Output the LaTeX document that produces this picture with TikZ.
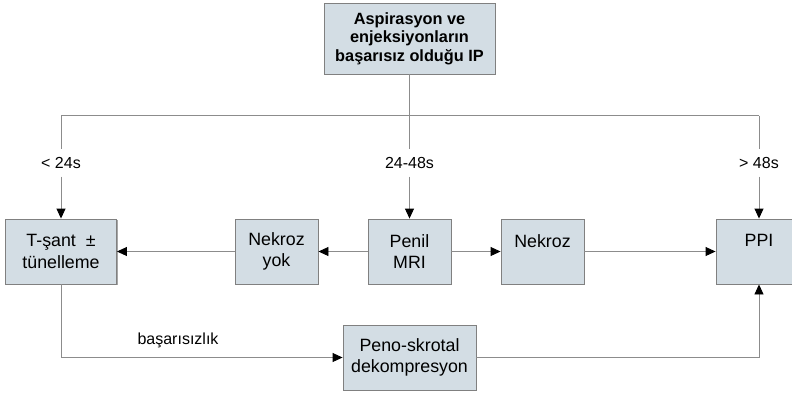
\documentclass[tikz,border=0pt]{standalone}
\usepackage{fontspec}
\setmainfont{Liberation Sans}
\usetikzlibrary{arrows.meta,shadows}
\definecolor{boxfill}{RGB}{211,221,228}
\definecolor{linegray}{RGB}{140,140,140}
\definecolor{bordergray}{RGB}{128,128,128}
\begin{document}
\begin{tikzpicture}[x=1pt,y=-1pt,
  box/.style={draw=bordergray, line width=0.9pt, fill=boxfill, inner sep=0pt, align=center,
    font=\fontsize{17.8}{21.7}\selectfont,
    drop shadow={shadow xshift=1pt, shadow yshift=-1pt, fill=gray!70, opacity=1}},
  conn/.style={draw=linegray, line width=0.9pt},
  arr/.style={conn, -{Triangle[length=10pt,width=9pt,color=black]}},
  lab/.style={inner xsep=2pt, inner ysep=0pt, minimum height=27pt, font=\fontsize{16}{19}\selectfont}]
\useasboundingbox (0,0) rectangle (792,392);
\fill[white] (0,0) rectangle (792,392);
% boxes
\node[box, minimum width=171pt, minimum height=71pt, font=\bfseries\fontsize{16.3}{18.4}\selectfont] (top) at (409.5,38.5) {Aspirasyon ve\\enjeksiyonların\\başarısız olduğu IP};
\node[box, minimum width=111pt, minimum height=65pt] (tsant) at (61,251.5) {T-şant \ ±\\tünelleme};
\node[box, minimum width=83pt, minimum height=65pt] (nyok) at (276.5,251.5) {Nekroz\\yok};
\node[box, minimum width=83pt, minimum height=65pt] (mri) at (409.5,251.5) {Penil\\MRI};
\node[box, minimum width=83pt, minimum height=65pt] (nekroz) at (542.5,251.5) {Nekroz\\\phantom{M}};
\node[box, minimum width=86pt, minimum height=65pt] (ppi) at (759,251.5) {PPI\\\phantom{M}};
\node[box, minimum width=133pt, minimum height=65pt] (peno) at (409.5,357.5) {Peno-skrotal\\dekompresyon};
% branch lines
\coordinate (jl) at (61,115.5);
\coordinate (jm) at (409.5,115.5);
\coordinate (jr) at (759,115.5);
\draw[conn] (top.south) -- (jm);
\draw[conn] (jl) -- (jr);
\node[lab] (l1) at (61,163) {< 24s};
\node[lab] (l2) at (409.5,163) {24-48s};
\node[lab] (l3) at (759,163) {> 48s};
\draw[conn] (jl) -- (l1.north);
\draw[conn] (jm) -- (l2.north);
\draw[conn] (jr) -- (l3.north);
\draw[arr] (l1.south) -- (tsant.north);
\draw[arr] (l2.south) -- (mri.north);
\draw[arr] (l3.south) -- (ppi.north);
% horizontal arrows
\draw[arr] (mri.west) -- (nyok.east);
\draw[arr] (nyok.west) -- (tsant.east);
\draw[arr] (mri.east) -- (nekroz.west);
\draw[arr] (nekroz.east) -- (ppi.west);
% bottom path
\draw[arr] (tsant.south) |- (peno.west);
\draw[arr] (peno.east) -| (ppi.south);
\node[font=\fontsize{16}{19}\selectfont] (fail) at (178,340) {başarısızlık};
\end{tikzpicture}
\end{document}
